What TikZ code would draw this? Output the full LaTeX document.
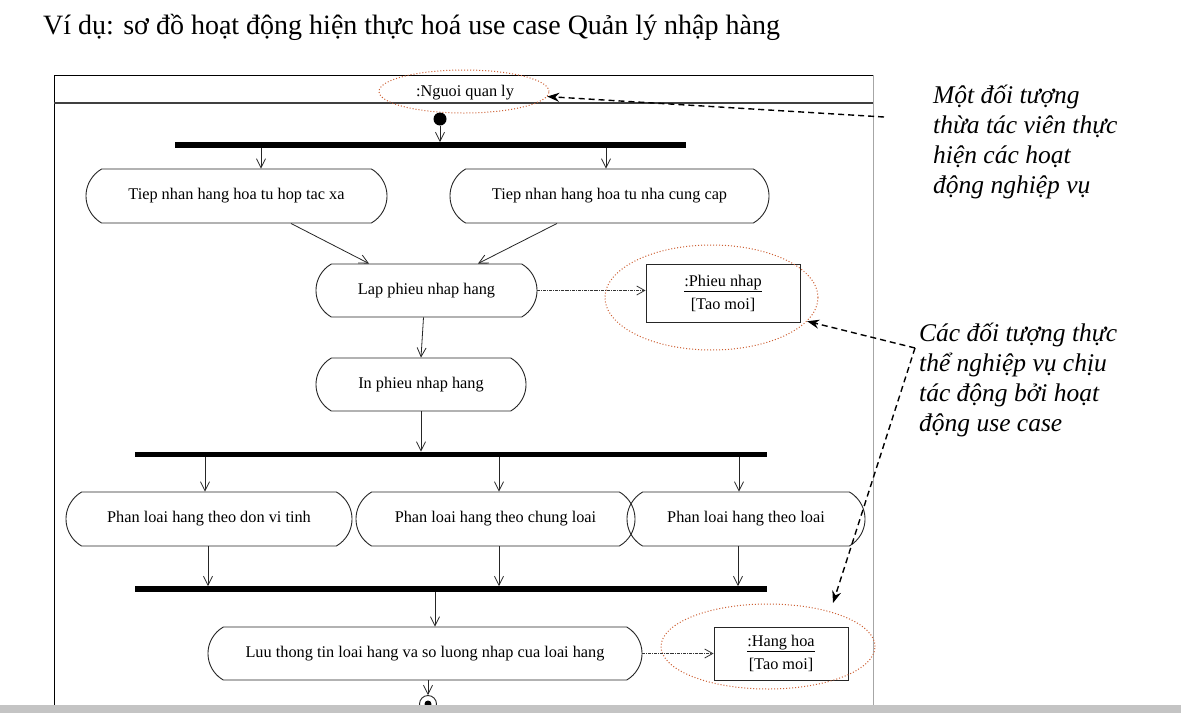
\documentclass[tikz,border=0pt]{standalone}
\usepackage{fontspec}
\setmainfont{Liberation Serif}
\usetikzlibrary{shapes.misc,shapes.geometric,arrows.meta,calc}
\definecolor{hl}{RGB}{205,95,50}
\definecolor{band}{RGB}{196,196,196}
\begin{document}
\begin{tikzpicture}[x=1pt,y=-1pt,
  act/.style={rounded rectangle, rounded rectangle arc length=120, draw=black!85, line width=0.9pt, minimum height=54pt, inner sep=0pt, font=\fontsize{16.3}{19}\selectfont},
  bar/.style={fill=black, draw=none, inner sep=0pt, minimum height=5.5pt},
  flow/.style={draw=black!85, line width=0.8pt, -{Straight Barb[length=9pt,width=9pt]}},
  dep/.style={draw=black!80, line width=0.8pt, densely dash dot, -{Straight Barb[length=8pt,width=9pt]}},
  objbox/.style={rectangle, draw=black!85, line width=1pt, inner sep=0pt, align=center, font=\fontsize{16.3}{23}\selectfont},
  hil/.style={ellipse, draw=hl, line width=1pt, dotted, inner sep=0pt},
  note/.style={draw=black, line width=1.4pt, dash pattern=on 6pt off 4pt, -{Stealth[length=12pt,width=9pt]}},
  notetext/.style={align=left, inner sep=0pt, anchor=base west, font=\fontsize{25.5}{29.8}\selectfont\itshape}
]
\useasboundingbox (0,0) rectangle (1181,713);
\fill[white] (0,0) rectangle (1181,713);

% title
\node[anchor=base west, inner sep=0pt, font=\fontsize{28}{32}\selectfont] (title) at (43,34)
  {Ví dụ: sơ đồ hoạt động hiện thực hoá use case Quản lý nhập hàng};

% frame
\draw[line width=1pt] (873,75) -- (54,75) -- (54,705);
\draw[line width=1.2pt, black!75] (54,103) -- (873,103);
\draw[line width=1pt, black!35] (873,75) -- (873,705);

% swimlane header
\node[inner sep=0pt, font=\fontsize{16.3}{19}\selectfont] (lane) at (465,93) {:Nguoi quan ly};
\node[hil, minimum width=170pt, minimum height=43pt] (e1) at (464,91.5) {};

% initial node and first fork
\node[circle, fill=black, inner sep=0pt, minimum size=13pt] (init) at (440,119) {};
\node[bar, minimum width=511pt] (f1) at (430.5,145) {};
\draw[flow] (init) -- (init |- f1.north);

\node[act, minimum width=301pt] (a1) at (236.5,196) {Tiep nhan hang hoa tu hop tac xa};
\node[act, minimum width=319pt] (a2) at (609.5,196) {Tiep nhan hang hoa tu nha cung cap};
\draw[flow] ([xshift=24.5pt]a1.north |- f1.south) -- ([xshift=24.5pt]a1.north);
\draw[flow] ([xshift=-3.5pt]a2.north |- f1.south) -- ([xshift=-3.5pt]a2.north);

\node[act, minimum width=221pt, minimum height=53pt] (lap) at (426.5,290.5) {Lap phieu nhap hang};
\draw[flow] ([xshift=54.5pt]a1.south) -- ([xshift=-57.5pt]lap.north);
\draw[flow] ([xshift=-52.5pt]a2.south) -- ([xshift=51.5pt]lap.north);

% Phieu nhap object
\node[objbox, minimum width=154pt, minimum height=58pt] (pn) at (723,293) {\underline{:Phieu nhap}\\{}[Tao moi]};
\node[hil, minimum width=213pt, minimum height=105pt] (e2) at (711.5,297.5) {};
\draw[dep] (lap.east) -- (lap.east -| pn.west);

\node[act, minimum width=210pt, minimum height=53pt] (inp) at (421,384.5) {In phieu nhap hang};
\draw[flow] ([xshift=-3pt]lap.south) -- (inp.north);

% second fork
\node[bar, minimum width=632pt] (f2) at (451,454.5) {};
\draw[flow] (inp.south) -- (inp.south |- f2.north);

\node[act, minimum width=286pt] (b1) at (209,519) {Phan loai hang theo don vi tinh};
\node[act, minimum width=279pt] (b2) at (495.5,519) {Phan loai hang theo chung loai};
\node[act, minimum width=238pt] (b3) at (746,519) {Phan loai hang theo loai};
\draw[flow] ([xshift=-4pt]b1.north |- f2.south) -- ([xshift=-4pt]b1.north);
\draw[flow] ([xshift=3.5pt]b2.north |- f2.south) -- ([xshift=3.5pt]b2.north);
\draw[flow] ([xshift=-7pt]b3.north |- f2.south) -- ([xshift=-7pt]b3.north);

% join
\node[bar, minimum width=632pt] (f3) at (451,589) {};
\draw[flow] ([xshift=-1pt]b1.south) -- ([xshift=-1pt]b1.south |- f3.north);
\draw[flow] ([xshift=3.5pt]b2.south) -- ([xshift=3.5pt]b2.south |- f3.north);
\draw[flow] ([xshift=-8pt]b3.south) -- ([xshift=-8pt]b3.south |- f3.north);

\node[act, minimum width=434pt, minimum height=53pt] (luu) at (425,653.5) {Luu thong tin loai hang va so luong nhap cua loai hang};
\draw[flow] ([xshift=10pt]luu.north |- f3.south) -- ([xshift=10pt]luu.north);

% Hang hoa object
\node[objbox, minimum width=134pt, minimum height=53pt] (hh) at (781,653.5) {\underline{:Hang hoa}\\{}[Tao moi]};
\node[hil, minimum width=214pt, minimum height=85pt] (e3) at (768,646.5) {};
\draw[dep] (luu.east) -- (luu.east -| hh.west);

% final node
\node[circle, draw=black!85, line width=0.9pt, fill=white, inner sep=0pt, minimum size=17pt] (fin) at (428,704) {};
\node[circle, fill=black, inner sep=0pt, minimum size=7pt] (findot) at (fin.center) {};
\draw[flow] ([xshift=3pt]luu.south) -- (fin.north);

% annotations (base anchor = baseline of last line)
\node[notetext] (n1) at (933,193) {Một đối tượng\\thừa tác viên thực\\hiện các hoạt\\động nghiệp vụ};
\node[notetext] (n2) at (919,431) {Các đối tượng thực\\thể nghiệp vụ chịu\\tác động bởi hoạt\\động use case};
\coordinate (c1) at (884,117);
\coordinate (c2) at (915,348);
\coordinate (t3) at (833,603);
\draw[note] (c1) -- (e1);
\draw[note] (c2) -- (e2);
\draw[note] (c2) -- (t3);

% bottom band
\fill[band] (0,705) rectangle (1181,713);
\end{tikzpicture}
\end{document}
